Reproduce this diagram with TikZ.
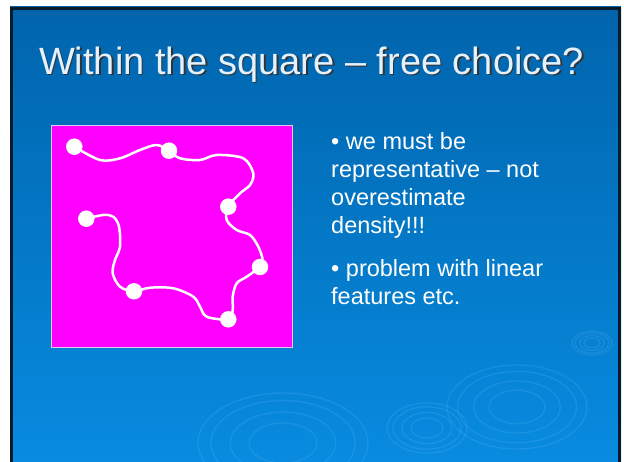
\documentclass[tikz,border=0pt]{standalone}
\usepackage{fontspec}
\setmainfont{Liberation Sans}
\begin{document}
\begin{tikzpicture}[x=1pt,y=-1pt,
  dot/.style={circle,fill=white,inner sep=0pt,minimum size=16.5pt},
  ripple/.style={draw=ripplec,line width=1.4pt,opacity=0.22},
  bodytext/.style={text=white,font=\fontsize{23.5}{28}\selectfont,anchor=north west,align=left,inner sep=0pt}]
\definecolor{topc}{RGB}{0,100,172}
\definecolor{botc}{RGB}{8,140,225}
\definecolor{ripplec}{RGB}{90,180,245}
\definecolor{framec}{RGB}{10,26,40}
\definecolor{titlec}{RGB}{228,242,255}
\definecolor{sqborder}{RGB}{225,200,240}
\definecolor{magentac}{RGB}{255,0,255}
\useasboundingbox (0,0) rectangle (624,462);
\fill[white] (0,0) rectangle (624,462);
% slide background
\shade[top color=topc,bottom color=botc] (10,7) rectangle (621,470);
\draw[framec,line width=3pt] (11.5,470) -- (11.5,8.5) -- (619.5,8.5) -- (619.5,470);
% ripples
\begin{scope}
  \clip (13,10) rectangle (618,462);
  \foreach \r in {1,0.85,0.62,0.4}{
    \draw[ripple] (517,407) ellipse ({70*\r} and {42*\r});
    \draw[ripple] (427,428) ellipse ({40*\r} and {25*\r});
    \draw[ripple] (283,443) ellipse ({85*\r} and {50*\r});
    \draw[ripple] (592,343) ellipse ({20*\r} and {12*\r});
  }
\end{scope}
% title
\node[text=black!80,font=\fontsize{38}{44}\selectfont] at (313,66) {Within the square – free choice?};
\node[text=titlec,font=\fontsize{38}{44}\selectfont] (title) at (311.5,64.5) {Within the square – free choice?};
% magenta square
\node[draw=sqborder,line width=1pt,fill=magentac,minimum width=241pt,minimum height=222pt,inner sep=0pt,anchor=north west] (sq) at (51,125) {};
% path points
\coordinate (p1) at (74.3,146.7);
\coordinate (p2) at (169,150.7);
\coordinate (p3) at (228.3,206.7);
\coordinate (p4) at (260,267);
\coordinate (p5) at (228.3,319.3);
\coordinate (p6) at (134,291.3);
\coordinate (p7) at (86.3,218.7);
\draw[white,line width=2.5pt,line cap=round,line join=round] plot[smooth,tension=0.55] coordinates {
 (p1) (100,160) (120,158.3) (140,150) (156.7,145) (p2)
 (180,158.3) (200,160) (216.7,155) (243.3,158.3) (253.3,173.3) (250,185) (240,193.3) (p3)
 (226.7,220) (236.7,230) (250,235) (258.3,246.7) (262.7,260) (p4)
 (246.7,276.7) (236.7,283.3) (232.7,296.7) (232.7,310) (p5)
 (206.7,316.7) (200,306.7) (193.3,296.7) (173.3,288.3) (150,287.7) (p6)
 (120,286.7) (112.7,273.3) (115,260) (120,246.7) (119,226.7) (113.3,216.7) (103.3,215) (p7)};
\foreach \i in {1,...,7}{ \node[dot] (d\i) at (p\i) {}; }
% body text
\node[bodytext] (b1) at (331,132) {• we must be\\representative – not\\overestimate\\density!!!};
\node[bodytext] (b2) at (331,259.5) {• problem with linear\\features etc.};
\end{tikzpicture}
\end{document}
